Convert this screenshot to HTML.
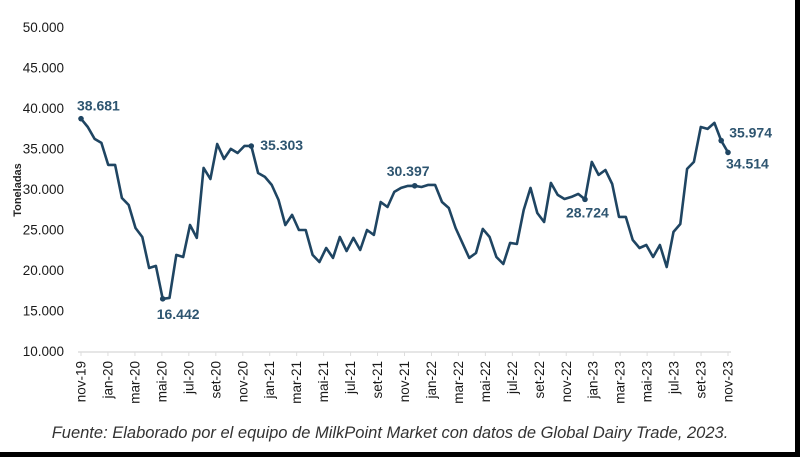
<!DOCTYPE html>
<html><head><meta charset="utf-8"><style>
body{margin:0;background:#000;}
#wrap{position:relative;width:795px;height:452px;background:#fff;overflow:hidden}
svg{position:absolute;left:0;top:0}
text{font-family:"Liberation Sans",sans-serif}
</style></head><body>
<div id="wrap">
<svg id="chart" width="800" height="457"></svg>
</div>
<script>
const yTicks=[10000,15000,20000,25000,30000,35000,40000,45000,50000];
const yTickLabels=["10.000","15.000","20.000","25.000","30.000","35.000","40.000","45.000","50.000"];
const xLabels=["nov-19","jan-20","mar-20","mai-20","jul-20","set-20","nov-20","jan-21","mar-21","mai-21","jul-21","set-21","nov-21","jan-22","mar-22","mai-22","jul-22","set-22","nov-22","jan-23","mar-23","mai-23","jul-23","set-23","nov-23"];
const volumes=[38681,37660,36180,35690,32970,32970,28890,28030,25190,24080,20250,20500,16442,16550,21860,21610,25560,23960,32600,31240,35560,33710,34950,34450,35320,35303,31980,31490,30500,28650,25560,26800,
24940,24940,21860,20990,22720,21490,24080,22350,23960,22470,24940,24330,28400,27780,29640,30130,30380,30397,30250,30500,30500,28400,27660,25190,23340,21490,22100,25070,24080,21610,20740,23340,23210,27410,30130,
27040,25930,30750,29270,28770,29020,29390,28724,33340,31740,32350,30620,26550,26550,23710,22720,23090,21610,23090,20370,24700,25680,32480,33340,37660,37420,38160,35974,34514];
const annotated=[{i:0,t:"38.681",dx:-4,dy:-8,a:"start"},{i:12,t:"16.442",dx:-6,dy:20,a:"start"},{i:25,t:"35.303",dx:9,dy:4,a:"start"},{i:49,t:"30.397",dx:-28,dy:-10,a:"start"},{i:74,t:"28.724",dx:-19,dy:18,a:"start"},{i:94,t:"35.974",dx:8,dy:-3,a:"start"},{i:95,t:"34.514",dx:-2,dy:16,a:"start"}];
const NS="http://www.w3.org/2000/svg";
const svg=document.getElementById('chart');
const X0=81,X1=728,Y0=351,Y1=27;
const yS=v=>Y0-(v-10000)*(Y0-Y1)/40000;
const xS=i=>X0+i*(X1-X0)/(volumes.length-1);
const xM=m=>X0+m*(X1-X0)/48;
function mk(tag,attrs,txt){const e=document.createElementNS(NS,tag);for(const k in attrs)e.setAttribute(k,attrs[k]);if(txt!==undefined)e.textContent=txt;svg.appendChild(e);return e;}
yTicks.forEach((v,k)=>{
 const t=mk('text',{x:64,y:yS(v)+5,'text-anchor':'end','font-size':13.5,fill:'#1a1a1a'},yTickLabels[k]);
 
 
});
const ax=mk('line',{x1:X0-3,x2:X1+3,y1:Y0+1,y2:Y0+1,stroke:'#ddd','stroke-width':1.5});


xLabels.forEach((l,k)=>{
 const x=xM(k*2);
 const tk=mk('line',{x1:x,x2:x,y1:Y0+1,y2:Y0+5,stroke:'#ddd'});
 
 
 const t=mk('text',{x:0,y:0,'text-anchor':'end','font-size':13.5,fill:'#1a1a1a',transform:`translate(${x+4.5},${Y0+10}) rotate(-90)`},l);
 
 
});
const yt=mk('text',{x:0,y:0,'text-anchor':'middle','font-size':11,'font-weight':'bold',fill:'#222',transform:'translate(21,190) rotate(-90)'},'Toneladas');


const pts=volumes.map((v,i)=>xS(i).toFixed(1)+','+yS(v).toFixed(1)).join(' ');
const pl=mk('polyline',{points:pts,fill:'none',stroke:'#1f4562','stroke-width':2.6,'stroke-linejoin':'round'});


annotated.forEach(a=>{
 const x=xS(a.i),y=yS(volumes[a.i]);
 const c=mk('circle',{cx:x,cy:y,r:2.8,fill:'#1f4562'});
 
 
 const t=mk('text',{x:x+a.dx,y:y+a.dy,'text-anchor':a.a,'font-size':14,'font-weight':'bold',fill:'#2e5570'},a.t);
 
 
});
const f=mk('text',{x:390,y:438,'text-anchor':'middle','font-size':16.5,'font-style':'italic',fill:'#333'},'Fuente: Elaborado por el equipo de MilkPoint Market con datos de Global Dairy Trade, 2023.');


</script>
</body></html>
